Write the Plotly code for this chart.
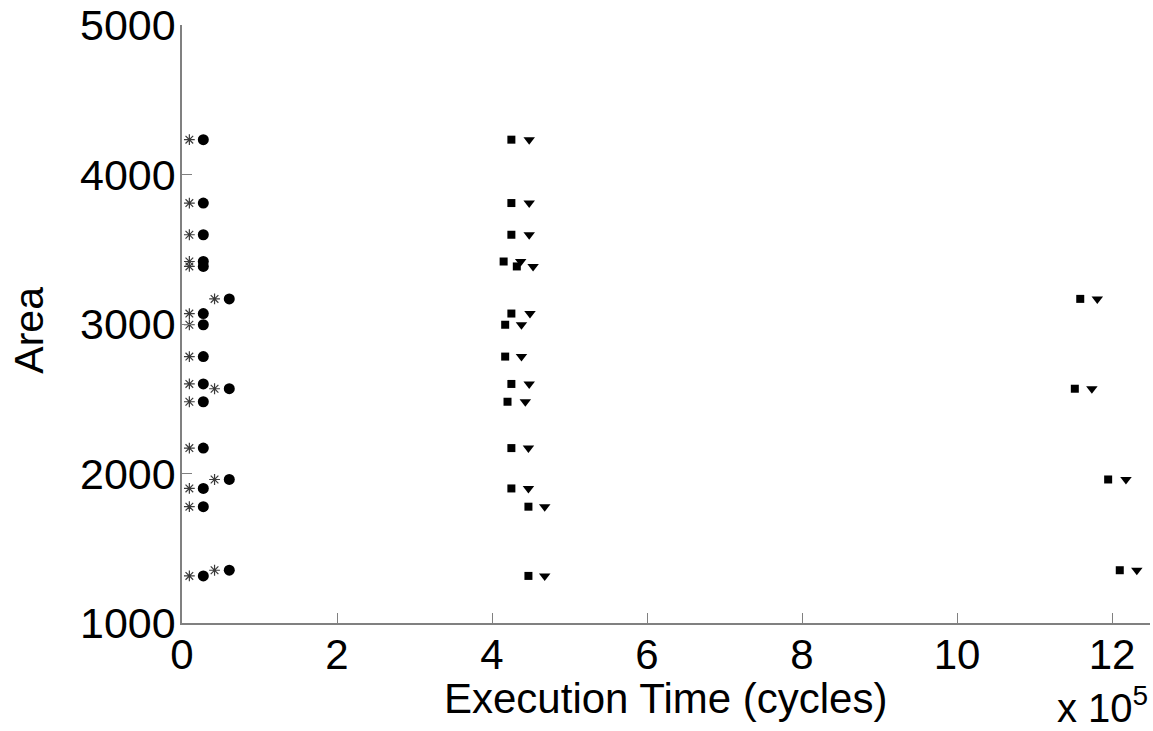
import plotly.graph_objects as go

# Execution time (x 10^5 cycles) and area for each of the four series
star_x = [0.095]*14 + [0.42]*4
star_y = [4233, 3809, 3597, 3418, 3385, 3070, 2995, 2782, 2599, 2480, 2170, 1900, 1778, 1315,
          3168, 2567, 1960, 1353]

circ_x = [0.275]*14 + [0.61]*4
circ_y = star_y

sq_x = [4.25, 4.25, 4.25, 4.15, 4.32, 4.25, 4.17, 4.17, 4.25, 4.20, 4.25, 4.25, 4.47, 4.47,
        11.59, 11.52, 11.95, 12.10]
sq_y = star_y

tri_x = [4.48, 4.48, 4.48, 4.37, 4.53, 4.49, 4.38, 4.38, 4.48, 4.43, 4.47, 4.47, 4.68, 4.68,
         11.81, 11.74, 12.18, 12.32]
tri_y = star_y

x_ticks = [0, 2, 4, 6, 8, 10, 12]
y_ticks = [1000, 2000, 3000, 4000, 5000]

FONT = "Liberation Sans, Arial, sans-serif"
GREY = "#808080"

fig = go.Figure()
fig.add_trace(go.Scatter(x=star_x, y=star_y, mode="markers", cliponaxis=False,
                         marker=dict(symbol="asterisk", size=9,
                                     line=dict(color="#3a3a3a", width=1.2))))
fig.add_trace(go.Scatter(x=circ_x, y=circ_y, mode="markers", cliponaxis=False,
                         marker=dict(symbol="circle", size=11, color="black")))
fig.add_trace(go.Scatter(x=sq_x, y=sq_y, mode="markers", cliponaxis=False,
                         marker=dict(symbol="square", size=8, color="black")))
fig.add_trace(go.Scatter(x=tri_x, y=tri_y, mode="markers", cliponaxis=False,
                         marker=dict(symbol="triangle-down", size=10, color="black")))

fig.update_layout(
    width=1153, height=731,
    margin=dict(l=182, r=3, t=25, b=108),
    paper_bgcolor="white", plot_bgcolor="white",
    showlegend=False,
    font=dict(family=FONT, color="black", size=40),
    xaxis=dict(range=[0, 12.49], tickvals=x_ticks, ticktext=[str(v) for v in x_ticks],
               showline=True, linecolor=GREY, linewidth=1.5, automargin=False,
               ticks="inside", ticklen=10, tickcolor=GREY, tickwidth=1,
               showgrid=False, zeroline=False, ticklabelstandoff=-6,
               tickfont=dict(size=42, family=FONT)),
    yaxis=dict(range=[1000, 5000], tickvals=y_ticks, ticktext=[str(v) for v in y_ticks],
               showline=True, linecolor=GREY, linewidth=1.5, automargin=False,
               ticks="inside", ticklen=10, tickcolor=GREY, tickwidth=1,
               showgrid=False, zeroline=False, ticklabelstandoff=-4,
               tickfont=dict(size=43, family=FONT)),
)

fig.add_annotation(xref="paper", yref="paper", x=0.499, y=-0.126, xanchor="center", yanchor="middle",
                   text="Execution Time (cycles)", showarrow=False,
                   font=dict(size=42, family=FONT, color="black"))
fig.add_annotation(xref="paper", yref="paper", x=-0.159, y=0.489, xanchor="center", yanchor="middle",
                   text="Area", textangle=-90, showarrow=False,
                   font=dict(size=41, family=FONT, color="black"))
fig.add_annotation(xref="paper", yref="paper", x=1.0, y=-0.1376, xanchor="right", yanchor="middle",
                   text="x 10<sup>5</sup>", showarrow=False,
                   font=dict(size=40, family=FONT, color="black"))

fig.write_html("out.html", config={"displayModeBar": False},
               post_script="document.body.style.margin='0';")
